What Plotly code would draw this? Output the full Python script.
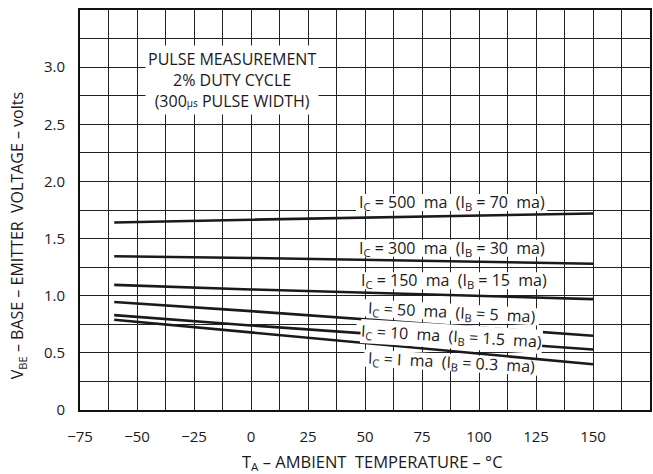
import math
import plotly.graph_objects as go

temps = [-60, 0, 150]
v_500 = [1.64, 1.665, 1.72]
v_300 = [1.345, 1.33, 1.28]
v_150 = [1.095, 1.055, 0.97]
v_50 = [0.945, 0.865, 0.65]
v_10 = [0.83, 0.74, 0.53]
v_1 = [0.79, 0.68, 0.40]

series = [v_500, v_300, v_150, v_50, v_10, v_1]
labels = [
    "I<sub>C</sub> = 500  ma  (I<sub>B</sub> = 70  ma)",
    "I<sub>C</sub> = 300  ma  (I<sub>B</sub> = 30  ma)",
    "I<sub>C</sub> = 150  ma  (I<sub>B</sub> = 15  ma)",
    "I<sub>C</sub> = 50  ma  (I<sub>B</sub> = 5  ma)",
    "I<sub>C</sub> = 10  ma  (I<sub>B</sub> = 1.5  ma)",
    "I<sub>C</sub> = I  ma  (I<sub>B</sub> = 0.3  ma)",
]
label_x = [88, 88, 89, 88, 88, 88]
label_y = [1.815, 1.415, 1.13, 0.855, 0.645, 0.415]
label_angle = [0, 0, 0, 3, 3.5, 3]

x_ticks = [-75, -50, -25, 0, 25, 50, 75, 100, 125, 150]
x_ticktext = ["\u221275", "\u221250", "\u221225", "0", "25", "50", "75", "100", "125", "150"]
y_ticks = [0, 0.5, 1.0, 1.5, 2.0, 2.5, 3.0]
y_ticktext = ["0", "0.5", "1.0", "1.5", "2.0", "2.5", "3.0"]

x_title = "T<sub>A</sub> \u2013 AMBIENT  TEMPERATURE \u2013 \u00b0C"
y_title = "V<sub>BE</sub> \u2013 BASE \u2013 EMITTER  VOLTAGE \u2013 volts"

FONT = "Open Sans"
FS = 16
W, H = 653, 474
ML, MR, MT, MB = 80, 1, 10, 64
XR = [-75, 175]
YR = [0, 3.5]
pxx = (W - ML - MR) / (XR[1] - XR[0])
pxy = (H - MT - MB) / (YR[1] - YR[0])

# approximate text box half sizes (px) for the label backgrounds
half_w = [96, 96, 96, 88, 96, 88]
half_h = 7.5

fig = go.Figure()
for s in series:
    fig.add_trace(go.Scatter(x=temps, y=s, mode="lines",
                             line=dict(color="#1a1a1a", width=2.6),
                             showlegend=False, hoverinfo="skip"))

for i, (t, x, y, a) in enumerate(zip(labels, label_x, label_y, label_angle)):
    ang = math.radians(a)
    pts = []
    for dx, dy in [(-half_w[i], -half_h - 1), (half_w[i], -half_h - 1),
                   (half_w[i], half_h + 1), (-half_w[i], half_h + 1)]:
        sx = dx * math.cos(ang) - dy * math.sin(ang)
        sy = dx * math.sin(ang) + dy * math.cos(ang)
        pts.append((x + sx / pxx, y - sy / pxy))
    path = "M " + " L ".join(f"{px:.4f},{py:.4f}" for px, py in pts) + " Z"
    fig.add_shape(type="path", path=path, xref="x", yref="y", layer="between",
                  fillcolor="white", line=dict(width=0))
    fig.add_annotation(x=x, y=y, text=t, showarrow=False, textangle=a,
                       bgcolor="white" if i == 4 else "rgba(0,0,0,0)", borderpad=0,
                       font=dict(family=FONT, size=FS, color="#1a1a1a"))

fig.add_annotation(x=-8.5, y=2.89,
                   text="PULSE MEASUREMENT<br>2% DUTY CYCLE<br>(300<span style='font-size:10px'>\u03bcs</span> PULSE WIDTH)",
                   showarrow=False, align="center", bgcolor="white", borderpad=2,
                   font=dict(family=FONT, size=FS, color="#1a1a1a"))

fig.add_annotation(x=(374 - ML) / (W - ML - MR), y=-(462 - (H - MB)) / (H - MT - MB),
                   xref="paper", yref="paper", xanchor="center", yanchor="middle",
                   text=x_title, showarrow=False,
                   font=dict(family=FONT, size=16.5, color="#1a1a1a"))
fig.add_annotation(x=-(ML - 18) / (W - ML - MR), y=((H - MB) - 236) / (H - MT - MB),
                   xref="paper", yref="paper", xanchor="center", yanchor="middle",
                   text=y_title, showarrow=False, textangle=-90,
                   font=dict(family=FONT, size=16, color="#1a1a1a"))

fig.update_layout(
    width=W, height=H,
    margin=dict(l=ML, r=MR, t=MT, b=MB),
    paper_bgcolor="white", plot_bgcolor="white",
    font=dict(family=FONT, size=15, color="#1a1a1a"),
    xaxis=dict(range=XR, tickvals=x_ticks, ticktext=x_ticktext,
               showgrid=True, gridcolor="#222", gridwidth=1.2,
               minor=dict(dtick=12.5, tick0=-75, showgrid=True, gridcolor="#222", gridwidth=1.2),
               zeroline=False, showline=True, linecolor="#111", linewidth=2, mirror=True,
               ticks="", ticklabelstandoff=12),
    yaxis=dict(range=YR, tickvals=y_ticks, ticktext=y_ticktext,
               showgrid=True, gridcolor="#222", gridwidth=1.2,
               minor=dict(dtick=0.25, tick0=0, showgrid=True, gridcolor="#222", gridwidth=1.2),
               zeroline=False, showline=True, linecolor="#111", linewidth=2, mirror=True,
               ticks="", ticklabelstandoff=10),
)

fig.write_html("out.html", config={"displayModeBar": False},
               post_script="document.body.style.margin='0';document.body.style.overflow='hidden';")
